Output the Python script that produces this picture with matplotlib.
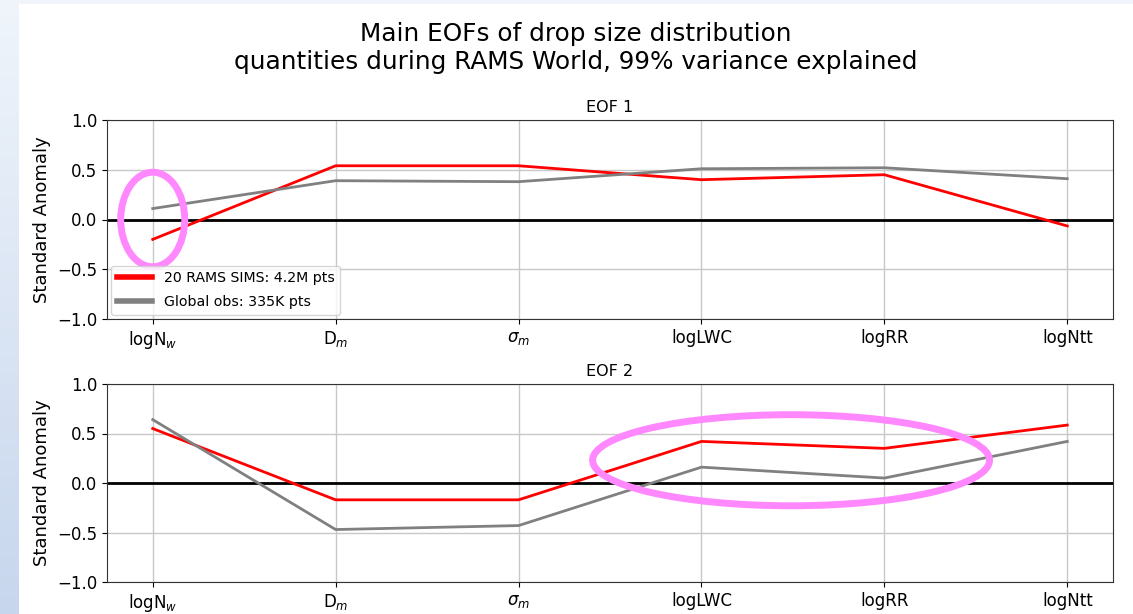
import matplotlib
matplotlib.use("Agg")
import matplotlib.pyplot as plt
from matplotlib.patches import Ellipse
import numpy as np

# 变量名称 (x 轴)
variables = ["logN$_w$", "D$_m$", r"$\sigma_m$", "logLWC", "logRR", "logNtt"]

# EOF 1 载荷
eof1_sims = [-0.20, 0.54, 0.54, 0.40, 0.45, -0.065]
eof1_obs = [0.11, 0.39, 0.38, 0.51, 0.52, 0.41]

# EOF 2 载荷
eof2_sims = [0.55, -0.17, -0.17, 0.42, 0.35, 0.585]
eof2_obs = [0.64, -0.47, -0.43, 0.16, 0.05, 0.42]

sims_label = "20 RAMS SIMS: 4.2M pts"
obs_label = "Global obs: 335K pts"

W, H = 1133, 614
fig = plt.figure(figsize=(W / 100, H / 100), dpi=100)

# 幻灯片背景 (左侧渐变条 + 顶部浅色条)
bg = fig.add_axes([0, 0, 19 / W, 1])
grad = np.linspace(0, 1, 256).reshape(-1, 1)
top_c = np.array([0.94, 0.96, 0.985])
bot_c = np.array([0.78, 0.84, 0.93])
img = top_c + (bot_c - top_c) * grad[:, :, None]
bg.imshow(img, aspect="auto", extent=[0, 1, 0, 1], origin="upper")
bg.axis("off")
strip = fig.add_axes([19 / W, 1 - 4 / H, 1 - 19 / W, 4 / H])
strip.set_facecolor("#f1f4fa")
strip.set_xticks([])
strip.set_yticks([])
for s in strip.spines.values():
    s.set_visible(False)

fig.text((19 + (W - 19) / 2) / W, 1 - 48 / H,
         "Main EOFs of drop size distribution\nquantities during RAMS World, 99% variance explained",
         ha="center", va="center", fontsize=17.8, linespacing=1.2)

x = np.arange(len(variables))
left, right = 107 / W, 1113 / W
ax1 = fig.add_axes([left, 1 - 319 / H, right - left, (319 - 120) / H])
ax2 = fig.add_axes([left, 1 - 582 / H, right - left, (582 - 384) / H])

for ax, sims, obs, name in [(ax1, eof1_sims, eof1_obs, "EOF 1"),
                            (ax2, eof2_sims, eof2_obs, "EOF 2")]:
    ax.plot(x, sims, color="red", lw=2, zorder=3)
    ax.plot(x, obs, color="gray", lw=2, zorder=3)
    ax.axhline(0, color="black", lw=2, zorder=2)
    ax.set_xlim(-0.25, len(variables) - 0.75)
    ax.set_ylim(-1, 1)
    ax.set_yticks([-1.0, -0.5, 0.0, 0.5, 1.0])
    ax.set_xticks(x)
    ax.set_xticklabels(variables)
    ax.tick_params(labelsize=12)
    ax.grid(True, color="#c8c8c8", lw=1)
    ax.set_axisbelow(True)
    ax.set_ylabel("Standard Anomaly", fontsize=13)
    ax.set_title(name, fontsize=11.5)
    for s in ax.spines.values():
        s.set_color("#333333")

# 图例 (仅上图)
h1, = ax1.plot([], [], color="red", lw=4)
h2, = ax1.plot([], [], color="gray", lw=4)
ax1.legend([h1, h2], [sims_label, obs_label], loc="lower left", fontsize=10.2,
           handlelength=2.5, labelspacing=0.7, borderaxespad=0.3)

# 标注椭圆
ax1.add_patch(Ellipse((0.0, 0.0), 0.35, 0.95, fill=False, ec="#ff88ff",
                      lw=5, zorder=5, clip_on=False))
ax2.add_patch(Ellipse((3.49, 0.23), 2.17, 0.92, fill=False, ec="#ff88ff",
                      lw=5, zorder=5, clip_on=False))

fig.savefig("out.png", dpi=100)
